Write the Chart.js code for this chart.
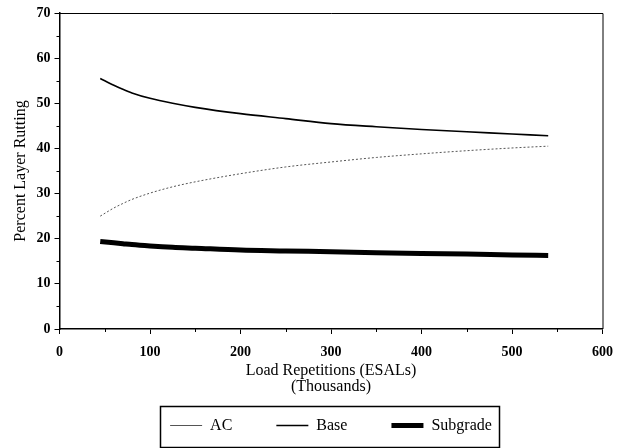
<!DOCTYPE html>
<html>
<head>
<meta charset="utf-8">
<script src="https://cdn.jsdelivr.net/npm/chart.js@4"></script>
<style>
  html, body { margin: 0; padding: 0; background: #fff; }
  #rutChart { display: block; }
</style>
</head>
<body>
<canvas id="rutChart" width="623" height="448"></canvas>
<script>
// load repetitions (thousands of ESALs)
const loadReps = [45, 60, 70, 80, 100, 125, 150, 200, 250, 300, 350, 400, 450, 500, 540];
// percent of total rutting in each layer
const acRut       = [25.0, 26.8, 27.8, 28.7, 30.1, 31.5, 32.6, 34.4, 35.9, 37.0, 38.0, 38.8, 39.5, 40.1, 40.5];
const baseRut     = [55.5, 54.0, 53.1, 52.3, 51.1, 50.0, 49.1, 47.7, 46.6, 45.5, 44.8, 44.2, 43.7, 43.2, 42.8];
const subgradeRut = [19.4, 19.1, 18.9, 18.7, 18.4, 18.1, 17.9, 17.5, 17.3, 17.1, 16.9, 16.7, 16.6, 16.4, 16.3];

const xTicks = [0, 100, 200, 300, 400, 500, 600];
const yTicks = [0, 10, 20, 30, 40, 50, 60, 70];

const SERIF = '"Liberation Serif", "DejaVu Serif", serif';
Chart.defaults.font.family = SERIF;
Chart.defaults.color = '#000';

const toPoints = vals => vals.map((v, i) => ({ x: loadReps[i], y: v }));

// frame, minor ticks and the box round the legend
const framePlugin = {
  id: 'framePlugin',
  afterDraw(chart) {
    const { ctx, chartArea: a, scales: { x, y } } = chart;
    ctx.save();
    ctx.strokeStyle = '#000';
    ctx.lineWidth = 1;
    ctx.beginPath();
    ctx.moveTo(a.left, a.top + 0.5);
    ctx.lineTo(a.right + 0.5, a.top + 0.5);
    ctx.lineTo(a.right + 0.5, a.bottom);
    for (let v = 50; v < 600; v += 100) {
      const px = Math.round(x.getPixelForValue(v)) + 0.5;
      ctx.moveTo(px, a.bottom);
      ctx.lineTo(px, a.bottom + 3);
    }
    for (let v = 5; v < 70; v += 10) {
      const py = Math.round(y.getPixelForValue(v)) + 0.5;
      ctx.moveTo(a.left, py);
      ctx.lineTo(a.left - 3, py);
    }
    ctx.stroke();

    const boxes = chart.legend.legendHitBoxes;
    if (boxes && boxes.length) {
      const first = boxes[0], last = boxes[boxes.length - 1];
      const left = Math.round(first.left - 10) + 0.5;
      const right = Math.round(last.left + last.width + 7) + 0.5;
      const top = Math.round(first.top - 12) + 0.5;
      ctx.lineWidth = 1.5;
      ctx.strokeRect(left, top, right - left, 41);
    }
    ctx.restore();
  }
};

new Chart(document.getElementById('rutChart'), {
  type: 'line',
  data: {
    datasets: [
      {
        label: 'AC',
        data: toPoints(acRut),
        borderColor: '#555',
        borderWidth: 1,
        borderDash: [2, 2]
      },
      {
        label: 'Base',
        data: toPoints(baseRut),
        borderColor: '#000',
        borderWidth: 1.6
      },
      {
        label: 'Subgrade',
        data: toPoints(subgradeRut),
        borderColor: '#000',
        borderWidth: 5
      }
    ]
  },
  options: {
    responsive: false,
    animation: false,
    events: [],
    elements: {
      point: { radius: 0 },
      line: { cubicInterpolationMode: 'monotone', fill: false }
    },
    layout: { padding: { left: 8, right: 20, top: 13, bottom: 4.5 } },
    scales: {
      x: {
        type: 'linear',
        min: 0,
        max: 600,
        afterBuildTicks: s => { s.ticks = xTicks.map(v => ({ value: v })); },
        afterFit: s => { s.height = 44.5; },
        ticks: { font: { size: 14, weight: 'bold' }, padding: 10, maxRotation: 0 },
        grid: { drawOnChartArea: false, color: '#000', tickColor: '#000', tickLength: 5 },
        border: { color: '#000', width: 1.5 },
        title: {
          display: true,
          text: ['Load Repetitions (ESALs)', '(Thousands)'],
          font: { size: 16, lineHeight: 1.05 },
          padding: { top: 0, bottom: -22 }
        }
      },
      y: {
        min: 0,
        max: 70,
        afterBuildTicks: s => { s.ticks = yTicks.map(v => ({ value: v })); },
        afterFit: s => { s.width = 51.5; },
        ticks: { font: { size: 14, weight: 'bold' }, padding: 4 },
        grid: { drawOnChartArea: false, color: '#000', tickColor: '#000', tickLength: 5 },
        border: { color: '#000', width: 1.5 },
        title: {
          display: true,
          text: 'Percent Layer Rutting',
          font: { size: 16 },
          padding: { top: 3, bottom: 0 }
        }
      }
    },
    plugins: {
      tooltip: { enabled: false },
      legend: {
        position: 'bottom',
        fullSize: false,
        labels: {
          usePointStyle: true,
          pointStyle: 'line',
          pointStyleWidth: 32,
          boxHeight: 10,
          padding: 44,
          color: '#000',
          font: { size: 16 }
        }
      }
    }
  },
  plugins: [framePlugin]
});
</script>
</body>
</html>
